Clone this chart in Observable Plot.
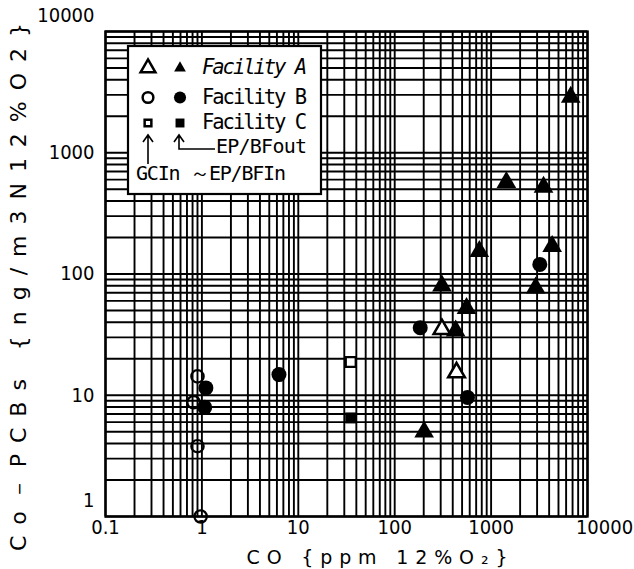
<!DOCTYPE html>
<html><head><meta charset="utf-8">
<script src="https://cdn.jsdelivr.net/npm/d3@7"></script>
<script src="https://cdn.jsdelivr.net/npm/@observablehq/plot@0.6"></script>
<style>
html,body{margin:0;padding:0;background:#fff;}
#chart{width:634px;height:569px;}
</style></head><body><div id="chart"></div>
<script>
// ---- tick labels / grid ----
const xTickLabels = [0.1, 1, 10, 100, 1000, 10000];
const yTickLabels = [1, 10, 100, 1000, 10000];
const gridSteps = [1, 2, 3, 4, 5, 6, 7, 8, 9];
const xDecades = [0.1, 1, 10, 100, 1000];
const yDecades = [1, 10, 100, 1000];

// ---- series (CO ppm, Co-PCBs ng/m3N) ----
// Facility A  (open = GCIn~EP/BFIn, filled = EP/BFout)
const aInX  = [309, 438];
const aInY  = [35, 15.4];
const aOutX = [1440, 3500, 4300, 755, 2900, 309, 556, 429, 202, 6700];
const aOutY = [570, 520, 169, 154, 77, 80, 52, 34, 5.0, 2880];
// Facility B
const bInX  = [0.90, 0.82, 0.90, 0.97];
const bInY  = [14.3, 8.75, 3.8, 1.0];
const bOutX = [1.1, 1.07, 6.3, 184, 569, 3200];
const bOutY = [11.5, 7.95, 14.8, 36, 9.6, 120];
// Facility C
const cInX  = [35];
const cInY  = [18.8];
const cOutX = [35];
const cOutY = [6.5];

const pts = (xs, ys) => xs.map((x, i) => ({x, y: ys[i]}));
const gridX = xDecades.flatMap(d => gridSteps.map(k => k * d)).concat([10000]);
const gridY = yDecades.flatMap(d => gridSteps.map(k => k * d)).concat([10000]);

const tickFont = "'Liberation Sans Narrow', 'DejaVu Sans Condensed', 'Liberation Sans', sans-serif";
const fmt = d => String(d);

const plot = Plot.plot({
  width: 634, height: 569,
  marginLeft: 105, marginRight: 47, marginTop: 31, marginBottom: 53,
  x: {type: "log", domain: [0.1, 10000]},
  y: {type: "log", domain: [1, 10000]},
  style: {background: "#fff", color: "#000", fontFamily: tickFont, fontSize: "20px"},
  marks: [
    Plot.ruleX(gridX, {stroke: "#000", strokeWidth: 1.9}),
    Plot.ruleY(gridY, {stroke: "#000", strokeWidth: 1.9}),
    Plot.frame({stroke: "#000", strokeWidth: 2.4}),
    Plot.axisX({ticks: xTickLabels.slice(0, 5), tickSize: 0, tickPadding: 3, tickFormat: fmt, label: null}),
    Plot.axisX({ticks: xTickLabels.slice(5), tickSize: 0, tickPadding: 3, tickFormat: fmt, label: null, dx: 17}),
    Plot.axisY({ticks: yTickLabels.slice(1, 4), tickSize: 0, tickPadding: 11, tickFormat: fmt, label: null}),
    Plot.axisY({ticks: [yTickLabels[0], yTickLabels[4]], tickSize: 0, tickPadding: 11, tickFormat: fmt, label: null, dy: -16}),
    Plot.dot(pts(bOutX, bOutY), {x: "x", y: "y", symbol: "circle", r: 7.5, fill: "#000"}),
    Plot.dot(pts(bInX, bInY), {x: "x", y: "y", symbol: "circle", r: 6.2, fill: "none", stroke: "#000", strokeWidth: 2.2}),
    Plot.dot(pts(aOutX, aOutY), {x: "x", y: "y", symbol: "triangle", r: 7.3, fill: "#000"}),
    Plot.dot(pts(aInX, aInY), {x: "x", y: "y", symbol: "triangle", r: 6.2, fill: "#fff", stroke: "#000", strokeWidth: 2.5}),
    Plot.dot(pts(cOutX, cOutY), {x: "x", y: "y", symbol: "square", r: 6.2, fill: "#000"}),
    Plot.dot(pts(cInX, cInY), {x: "x", y: "y", symbol: "square", r: 5.6, fill: "#fff", stroke: "#000", strokeWidth: 2.2})
  ]
});
document.getElementById("chart").appendChild(plot);

// ---- titles and legend ----
const svg = d3.select(plot);
const titleFont = "'DejaVu Sans', 'Liberation Sans', sans-serif";
svg.append("text")
  .attr("x", 377).attr("y", 564)
  .attr("text-anchor", "middle")
  .attr("font-family", titleFont).attr("font-size", 19)
  .attr("textLength", 261).attr("lengthAdjust", "spacing")
  .attr("fill", "#000")
  .text("CO {ppm 12%O₂}");
svg.append("text")
  .attr("transform", "translate(26,287) rotate(-90)")
  .attr("text-anchor", "middle")
  .attr("font-family", titleFont).attr("font-size", 22)
  .attr("textLength", 528).attr("lengthAdjust", "spacing")
  .attr("fill", "#000")
  .text("Co－PCBs {ng/m3N12%O2}");

const monoFont = "'DejaVu Sans Mono', 'Liberation Mono', monospace";
const lg = svg.append("g").attr("text-anchor", "start");
lg.append("rect").attr("x", 128).attr("y", 46).attr("width", 193).attr("height", 148)
  .attr("fill", "#fff").attr("stroke", "#000").attr("stroke-width", 2.2);
const sym = (type, size) => d3.symbol(type, size)();
const legendRows = [
  {label: "Facility A", italic: true, type: d3.symbolTriangle, cy: 68, openSize: 95, fillSize: 60, text: 74},
  {label: "Facility B", italic: false, type: d3.symbolCircle, cy: 97.5, openSize: 90, fillSize: 115, text: 104},
  {label: "Facility C", italic: false, type: d3.symbolSquare, cy: 123, openSize: 45, fillSize: 80, text: 129}
];
legendRows.forEach(r => {
  lg.append("path").attr("d", sym(r.type, r.openSize)).attr("transform", `translate(148,${r.cy})`)
    .attr("fill", "#fff").attr("stroke", "#000").attr("stroke-width", 2.5);
  lg.append("path").attr("d", sym(r.type, r.fillSize)).attr("transform", `translate(180,${r.cy})`)
    .attr("fill", "#000");
  lg.append("text").attr("x", 202).attr("y", r.text).attr("text-anchor", "start")
    .attr("font-family", monoFont).attr("font-size", 20.5)
    .attr("font-style", r.italic ? "italic" : "normal")
    .attr("textLength", 105).attr("lengthAdjust", "spacing")
    .attr("fill", "#000").text(r.label);
});
// arrows
lg.append("path").attr("d", "M148,164 L148,135 M143,142 L148,135 L153,142")
  .attr("fill", "none").attr("stroke", "#000").attr("stroke-width", 1.6);
lg.append("path").attr("d", "M215,149 L179,149 L179,135 M174,142 L179,135 L184,142")
  .attr("fill", "none").attr("stroke", "#000").attr("stroke-width", 1.6);
lg.append("text").attr("x", 216).attr("y", 153).attr("text-anchor", "start")
  .attr("font-family", monoFont).attr("font-size", 20)
  .attr("textLength", 91).attr("lengthAdjust", "spacing")
  .attr("fill", "#000").text("EP/BFout");
lg.append("text").attr("x", 136).attr("y", 180).attr("text-anchor", "start")
  .attr("font-family", monoFont).attr("font-size", 20)
  .attr("textLength", 150).attr("lengthAdjust", "spacing")
  .attr("fill", "#000").text("GCIn ～EP/BFIn");
</script></body></html>
